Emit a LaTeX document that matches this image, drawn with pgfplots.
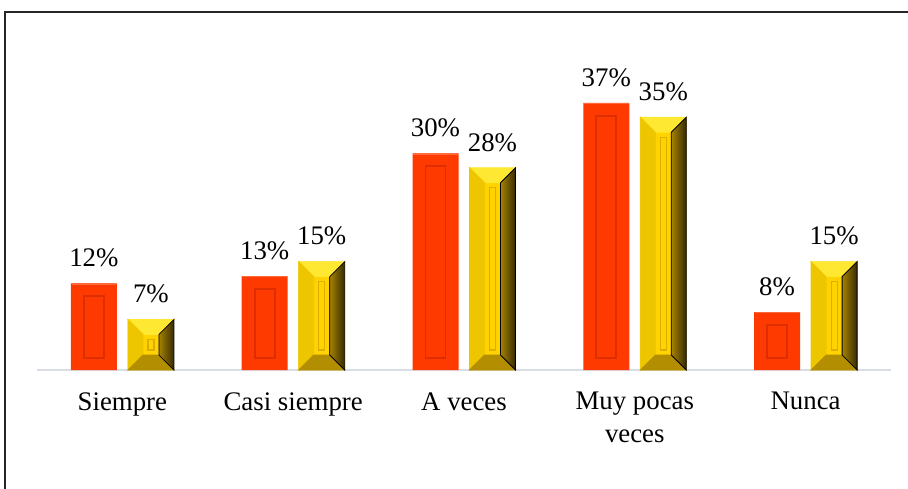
\documentclass[border=0pt]{standalone}
\usepackage{fontspec}
\setmainfont{Liberation Serif}
\usepackage{pgfplots}
\usepackage{pgfplotstable}
\pgfplotsset{compat=1.18}

\definecolor{barred}{RGB}{255,58,0}
\definecolor{redline}{RGB}{222,46,0}
\definecolor{redlight}{RGB}{255,105,60}
\definecolor{goldface}{RGB}{255,210,0}
\definecolor{goldtop}{RGB}{255,232,50}
\definecolor{goldleft}{RGB}{238,198,0}
\definecolor{goldbottom}{RGB}{178,142,0}
\definecolor{goldrightA}{RGB}{165,130,0}
\definecolor{goldrightB}{RGB}{55,42,0}
\definecolor{goldline}{RGB}{218,175,0}
\definecolor{baseline}{RGB}{217,222,230}

\pgfplotstableread{
pos red gold
0   12  7
1   13  15
2   30  28
3   37  35
4   8   15
}\answers

% one percentage point in the plot area (162.5pt for 0..45)
\def\unitpt{3.61111}
% bar offset from the category centre (14.25pt of 85.4pt per category)
\def\offs{0.16686}

\begin{document}
\begin{tikzpicture}
% frame of the figure
\draw[line width=1pt, black!85] (2.5pt,-10pt) -- (2.5pt,238pt) -- (470pt,238pt);

\begin{axis}[
  at={(18.5pt,59pt)}, anchor=south west,
  scale only axis,
  width=427pt, height=162.5pt,
  xmin=-0.5, xmax=4.5,
  ymin=0, ymax=45,
  axis y line=none,
  axis x line=bottom,
  axis line style={draw=baseline, line width=0.8pt, -},
  xtick={0,1,2,3,4},
  xticklabels={Siempre, Casi siempre, A veces, {Muy pocas\\veces}, Nunca},
  major tick length=0pt,
  xticklabel style={anchor=north, inner sep=0pt, yshift=-11pt, align=center,
    font=\fontsize{13.4}{16.5}\selectfont},
  clip=false,
  barval/.style={ybar, bar width=23pt, draw=none},
  bevel/.style={
    scatter, only marks, mark=text, text mark={},
    visualization depends on={rawy \as \barval},
    scatter/@post marker code/.code={\end{scope}},
  },
  valuelabel/.style={
    only marks, mark=text, text mark={},
    nodes near coords={\pgfmathprintnumber[assume math mode=true]{\pgfplotspointmeta}\%},
    every node near coord/.append style={text=black, anchor=south, inner sep=0pt,
      yshift=8pt, font=\fontsize{13.4}{15}\selectfont},
  },
]
\addplot[barval, fill=barred, bar shift=-14.25pt] table[x=pos, y=red] {\answers};
\addplot[barval, fill=goldface, bar shift=14.25pt] table[x=pos, y=gold] {\answers};

% bevel of the red bars
\addplot[bevel,
  scatter/@pre marker code/.code={%
    \pgfmathsetlengthmacro\hb{-\barval*\unitpt pt+6pt}%
    \draw[draw=redlight, line width=0.6pt] (-11.2pt,-0.3pt) -- (11.2pt,-0.3pt);
    \draw[draw=redline, line width=0.9pt, fill=none] (-5pt,-6.5pt) rectangle (5pt,\hb);
    \begin{scope}},
] table[x expr=\thisrow{pos}-\offs, y=red] {\answers};

% bevel of the gold bars
\addplot[bevel,
  scatter/@pre marker code/.code={%
    \pgfmathsetlengthmacro\hb{-\barval*\unitpt pt}%
    \pgfmathsetlengthmacro\hi{-\barval*\unitpt pt+7.5pt}%
    \pgfmathsetlengthmacro\hl{-\barval*\unitpt pt+10pt}%
    \fill[goldtop] (-11.5pt,0pt) -- (11.5pt,0pt) -- (4pt,-7.5pt) -- (-4pt,-7.5pt) -- cycle;
    \fill[goldleft] (-11.5pt,0pt) -- (-4pt,-7.5pt) -- (-4pt,\hi) -- (-11.5pt,\hb) -- cycle;
    \fill[goldbottom] (-11.5pt,\hb) -- (-4pt,\hi) -- (4pt,\hi) -- (11.5pt,\hb) -- cycle;
    \shade[left color=goldrightA, right color=goldrightB]
      (11.5pt,0pt) -- (4pt,-7.5pt) -- (4pt,\hi) -- (11.5pt,\hb) -- cycle;
    \draw[draw=goldline, line width=0.6pt, fill=none] (-1.5pt,-10pt) rectangle (1.5pt,\hl);
    \begin{scope}},
] table[x expr=\thisrow{pos}+\offs, y=gold] {\answers};

% percentages above the bars
\addplot[valuelabel] table[x expr=\thisrow{pos}-\offs, y=red] {\answers};
\addplot[valuelabel] table[x expr=\thisrow{pos}+\offs, y=gold] {\answers};
\end{axis}
\pgfresetboundingbox
\useasboundingbox (0,0) rectangle (454pt,244pt);
\end{tikzpicture}
\end{document}
